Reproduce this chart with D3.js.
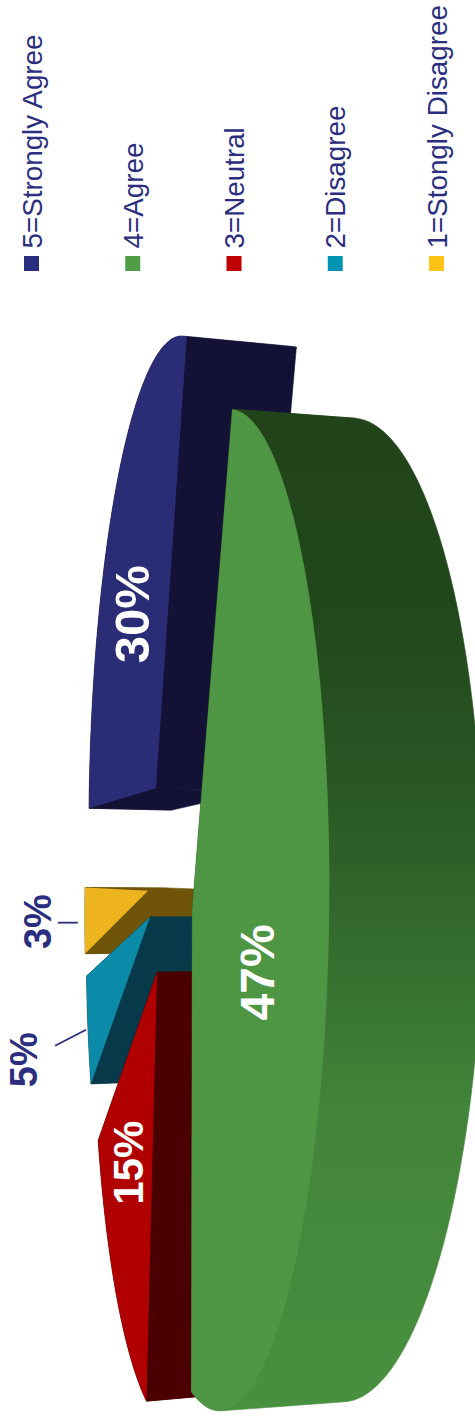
<!DOCTYPE html>
<html>
<head>
<meta charset="utf-8">
<title>Survey responses</title>
<script src="https://cdnjs.cloudflare.com/ajax/libs/d3/7.8.5/d3.min.js"></script>
<style>
  html, body { margin: 0; padding: 0; background: #fff; }
  svg { display: block; }
  text { font-family: "Liberation Sans", Arial, sans-serif; }
</style>
</head>
<body>
<script>
// Survey data, in legend order
const categories = ["5=Strongly Agree", "4=Agree", "3=Neutral", "2=Disagree", "1=Stongly Disagree"];
const percentages = [30, 47, 15, 5, 3];

// Colours per category
const faceColors = ["#2a2c76", "#4e9644", "#b10000", "#0c8ba8", "#eeb41f"];
const wallColors = ["#131136", "url(#greenWall)", "#4a0000", "#06394a", "#6f5409"];
const legendColors = ["#2b2e7e", "#4f9e45", "#c00000", "#0094b3", "#ffc317"];

// How far each slice is pulled out of the pie, in pie-plane units
const explodeU = [-0.278, 0, 0.141, 0.016, -0.045];
const explodeV = [-0.54, -0.012, -0.44, -0.599, -0.628];
// Per-slice rim radius, rotation of the slice about its hub (degrees),
// and shift of the hub from the rim's centre
const sliceRadius = [1, 1, 1, 0.97, 0.97];
const sliceTurn = [-1, -5, 0, 0, 0];
const hubV = [0, -0.098, -0.064, 0, 0];

// Label placement: radius along the slice, and nudge from the projected point
const labelRadius = [0.6, 0.6, 0.6, 1, 1];
const labelNudgeX = [17, 5, 10, -51, -34];
const labelNudgeY = [17, 12, -11, 29, 1];
const labelSize = [49, 48, 42, 38, 38];
const labelFill = ["#fff", "#fff", "#fff", "#2b2e7e", "#2b2e7e"];

const width = 475, height = 1421;

const svg = d3.select("body").append("svg")
  .attr("width", width).attr("height", height);

// Dark green side wall shades along the rim
const grad = svg.append("defs").append("linearGradient")
  .attr("id", "greenWall").attr("gradientUnits", "userSpaceOnUse")
  .attr("x1", 0).attr("x2", 0).attr("y1", 407).attr("y2", 1412);
[[0, "#21431a"], [0.2, "#22471b"], [0.4, "#2a5a25"], [0.7, "#42843a"], [1, "#48903f"]]
  .forEach(([o, c]) => grad.append("stop").attr("offset", o).attr("stop-color", c));

// Perspective projection of the tilted pie; the whole chart reads sideways
const perspective = 0.22, tilt = 0.01;
const centerX = 203, centerY = 910;
const scaleX = d3.scaleLinear().domain([-1, 1]).range([centerX - 100, centerX + 100]);
const scaleY = d3.scaleLinear().domain([-1, 1]).range([centerY - 490, centerY + 490]);
const wallDepth = 116, wallPower = 1.15, wallShrink = 0.982;

function project(u, v, lowered) {
  const w = 1 - perspective * v;
  let y = scaleY(u / w);
  let x = scaleX(v / w) - tilt * (y - centerY);
  if (lowered) {
    x += wallDepth / Math.pow(w, wallPower);
    y = centerY + (y - centerY) * wallShrink;
  }
  return [x, y];
}

const deg = Math.PI / 180;
const pie = d3.pie().sort(null).startAngle(-179 * deg).endAngle(181 * deg);
const arcs = pie(percentages).map((a, i) => ({ ...a, i }));

const line = d3.line();

const apex = (d, lowered) => project(explodeU[d.i], explodeV[d.i] + hubV[d.i], lowered);
const rim = (d, ang, r, lowered) => {
  const a = ang + sliceTurn[d.i] * deg, rr = r * sliceRadius[d.i];
  return project(explodeU[d.i] + rr * Math.sin(a), explodeV[d.i] + rr * Math.cos(a), lowered);
};
const rimAngles = d => d3.range(0, 91).map(k => d.startAngle + (d.endAngle - d.startAngle) * k / 90);

// Far slices first, so nearer ones overlap them
const paintOrder = [0, 4, 3, 2, 1];
const slices = svg.append("g").selectAll("g")
  .data(paintOrder.map(i => arcs[i]))
  .join("g");

slices.each(function (d) {
  const g = d3.select(this);
  const wall = wallColors[d.i];
  const angles = rimAngles(d);
  const upper = angles.map(a => rim(d, a, 1, false));
  const lower = angles.map(a => rim(d, a, 1, true));

  // Radial walls, then the outer wall swept between the two rims
  const polys = [
    [apex(d, false), upper[0], lower[0], apex(d, true)],
    [apex(d, false), upper[90], lower[90], apex(d, true)],
    d3.polygonHull(upper.concat(lower))
  ];
  polys.forEach(poly => {
    g.append("path").attr("d", line(poly) + "Z")
      .attr("fill", wall).attr("stroke", wall).attr("stroke-width", 0.6);
  });

  // Top face
  g.append("path")
    .attr("d", line([apex(d, false), ...upper]) + "Z")
    .attr("fill", faceColors[d.i]);
});

// Leader lines for the two smallest slices
const leaderEnd = { 3: [-33, 15], 4: [-27, 2] };
const leaderStart = { 3: [-2, -1], 4: [-7, 2] };
[3, 4].forEach(i => {
  const d = arcs[i];
  const mid = rim(d, (d.startAngle + d.endAngle) / 2, 1, false);
  svg.append("line")
    .attr("x1", mid[0] + leaderStart[i][0]).attr("y1", mid[1] + leaderStart[i][1])
    .attr("x2", mid[0] + leaderEnd[i][0]).attr("y2", mid[1] + leaderEnd[i][1])
    .attr("stroke", "#2b2e7e").attr("stroke-width", 1.8);
});

// Percentage labels
svg.append("g").selectAll("text")
  .data(arcs)
  .join("text")
  .attr("transform", d => {
    const p = rim(d, (d.startAngle + d.endAngle) / 2, labelRadius[d.i], false);
    return `translate(${p[0] + labelNudgeX[d.i]},${p[1] + labelNudgeY[d.i]}) rotate(-90)`;
  })
  .attr("text-anchor", "middle")
  .attr("font-weight", "bold")
  .attr("font-size", d => labelSize[d.i])
  .attr("fill", d => labelFill[d.i])
  .text(d => d.data + "%");

// Legend along the top edge
const legendX = d3.scalePoint().domain(categories).range([24, 429]);
const legend = svg.append("g").selectAll("g")
  .data(categories)
  .join("g")
  .attr("transform", d => `translate(${legendX(d)},0)`);

legend.append("rect")
  .attr("x", 0).attr("y", 256).attr("width", 15).attr("height", 15)
  .attr("fill", (d, i) => legendColors[i]);

legend.append("text")
  .attr("transform", "translate(17.5,248.5) rotate(-90)")
  .attr("font-size", 27.8)
  .attr("fill", "#2b2e7e")
  .text(d => d);
</script>
</body>
</html>
